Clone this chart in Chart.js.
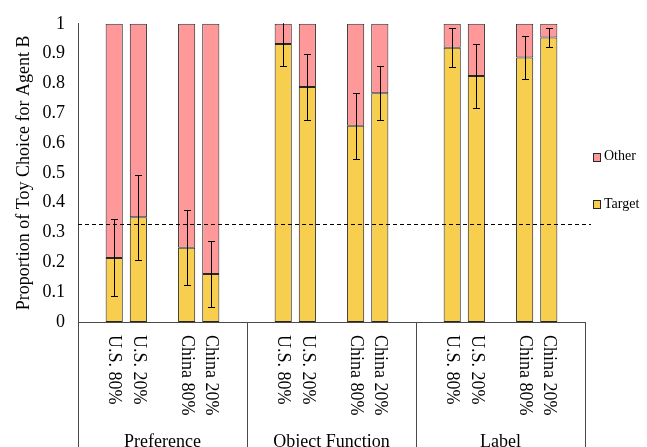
<!DOCTYPE html>
<html><head><meta charset="utf-8">
<script src="https://cdn.jsdelivr.net/npm/chart.js@4"></script>
<style>html,body{margin:0;padding:0;background:#fff;overflow:hidden}canvas{display:block}</style>
</head><body>
<canvas id="c" width="647" height="447"></canvas>
<script>
const groups = ["Preference", "Object Function", "Label"];
const categories = ["", "U.S. 80%", "U.S. 20%", "", "China 80%", "China 20%", "",
  "", "U.S. 80%", "U.S. 20%", "", "China 80%", "China 20%", "",
  "", "U.S. 80%", "U.S. 20%", "", "China 80%", "China 20%", ""];
const targetValues = [null, 0.215, 0.351, null, 0.249, 0.161, null,
  null, 0.932, 0.788, null, 0.658, 0.767, null,
  null, 0.920, 0.825, null, 0.887, 0.954, null];
const otherValues = [null, 0.785, 0.649, null, 0.751, 0.839, null,
  null, 0.068, 0.212, null, 0.342, 0.233, null,
  null, 0.080, 0.175, null, 0.113, 0.046, null];
const targetErrors = [null, 0.129, 0.143, null, 0.125, 0.112, null,
  null, 0.075, 0.111, null, 0.110, 0.091, null,
  null, 0.065, 0.107, null, 0.073, 0.032, null];
const chanceLevel = 0.33;
const yTickLabels = ["0", "0.1", "0.2", "0.3", "0.4", "0.5", "0.6", "0.7", "0.8", "0.9", "1"];
const seriesNames = ["Target", "Other"];

const FONT = "'Liberation Serif', 'Times New Roman', serif";
const TARGET_COLOR = "#F8CE4E";
const OTHER_COLOR = "#FF9999";
const BORDER = "#262626";
const AXIS = "#4a4a4a";

const overlay = {
  id: "overlay",
  afterDatasetsDraw(chart) {
    const {ctx, chartArea, scales: {x, y}} = chart;
    ctx.save();
    ctx.beginPath();
    ctx.rect(chartArea.left, chartArea.top - 0.5, chartArea.right - chartArea.left, chartArea.bottom - chartArea.top + 1);
    ctx.clip();
    ctx.strokeStyle = "#000";
    ctx.lineWidth = 1;
    targetValues.forEach((v, i) => {
      if (v == null) return;
      const e = targetErrors[i];
      const px = Math.round(x.getPixelForValue(i)) + 0.5;
      const yt = Math.round(y.getPixelForValue(v + e)) + 0.5;
      const yb = Math.round(y.getPixelForValue(v - e)) + 0.5;
      ctx.beginPath();
      ctx.moveTo(px, yt); ctx.lineTo(px, yb);
      ctx.moveTo(px - 3.5, yt); ctx.lineTo(px + 3.5, yt);
      ctx.moveTo(px - 3.5, yb); ctx.lineTo(px + 3.5, yb);
      ctx.stroke();
    });
    ctx.restore();
    ctx.save();
    ctx.strokeStyle = "#000";
    ctx.lineWidth = 1;
    ctx.setLineDash([4, 3]);
    const cy = Math.round(y.getPixelForValue(chanceLevel)) + 0.5;
    ctx.beginPath();
    ctx.moveTo(chartArea.left, cy);
    ctx.lineTo(chartArea.right + 6, cy);
    ctx.stroke();
    ctx.restore();
  },
  afterDraw(chart) {
    const {ctx, chartArea, scales: {x}} = chart;
    const n = categories.length;
    const slot = (chartArea.right - chartArea.left) / n;
    ctx.save();
    ctx.strokeStyle = AXIS;
    ctx.lineWidth = 1;
    for (let g = 0; g <= groups.length; g++) {
      const bx = Math.round(chartArea.left + g * 7 * slot) + 0.5;
      ctx.beginPath();
      ctx.moveTo(bx, chartArea.bottom);
      ctx.lineTo(bx, chart.height);
      ctx.stroke();
    }
    ctx.fillStyle = "#000";
    ctx.font = "18px " + FONT;
    ctx.textAlign = "left";
    ctx.textBaseline = "middle";
    categories.forEach((lab, i) => {
      if (!lab) return;
      const px = x.getPixelForValue(i);
      ctx.save();
      ctx.translate(px, chartArea.bottom + 13);
      ctx.rotate(Math.PI / 2);
      ctx.fillText(lab, 0, 0);
      ctx.restore();
    });
    ctx.textAlign = "center";
    groups.forEach((g, k) => {
      const cx = chartArea.left + (k * 7 + 3.5) * slot;
      ctx.fillText(g, cx, 442);
    });
    const legendItems = [
      {name: seriesNames[1], color: OTHER_COLOR, y: 156.5},
      {name: seriesNames[0], color: TARGET_COLOR, y: 204}
    ];
    ctx.font = "14px " + FONT;
    ctx.textAlign = "left";
    legendItems.forEach(it => {
      ctx.fillStyle = it.color;
      ctx.fillRect(593, Math.round(it.y - 4), 7, 8);
      ctx.strokeStyle = BORDER;
      ctx.strokeRect(593.5, Math.round(it.y - 4) + 0.5, 7, 8);
      ctx.fillStyle = "#000";
      ctx.fillText(it.name, 604, it.y);
    });
    ctx.restore();
  }
};

new Chart(document.getElementById("c"), {
  type: "bar",
  data: {
    labels: categories,
    datasets: [
      {label: seriesNames[0], data: targetValues, backgroundColor: TARGET_COLOR, borderColor: BORDER, borderWidth: 1, borderSkipped: false},
      {label: seriesNames[1], data: otherValues, backgroundColor: OTHER_COLOR, borderColor: BORDER, borderWidth: 1, borderSkipped: false}
    ]
  },
  options: {
    responsive: false,
    animation: false,
    devicePixelRatio: 1,
    layout: {padding: {top: 19, right: 62, left: 0, bottom: 0}},
    plugins: {legend: {display: false}, tooltip: {enabled: false}},
    datasets: {bar: {categoryPercentage: 1, barPercentage: 0.71}},
    scales: {
      x: {
        stacked: true,
        grid: {display: false, drawTicks: false},
        border: {display: true, color: AXIS, width: 1},
        ticks: {display: false},
        afterFit(s) { s.height = 125; }
      },
      y: {
        stacked: true,
        min: 0, max: 1,
        grid: {display: false, drawTicks: false},
        border: {display: true, color: AXIS, width: 1},
        ticks: {
          stepSize: 0.1,
          padding: 13,
          color: "#000",
          font: {family: FONT, size: 18},
          callback: (v, i) => yTickLabels[i]
        },
        title: {
          display: true,
          text: "Proportion of Toy Choice for Agent B",
          color: "#000",
          font: {family: FONT, size: 18},
          padding: {top: 13, bottom: 0}
        },
        afterFit(s) { s.width = 78; }
      }
    }
  },
  plugins: [overlay]
});
</script>
</body></html>
